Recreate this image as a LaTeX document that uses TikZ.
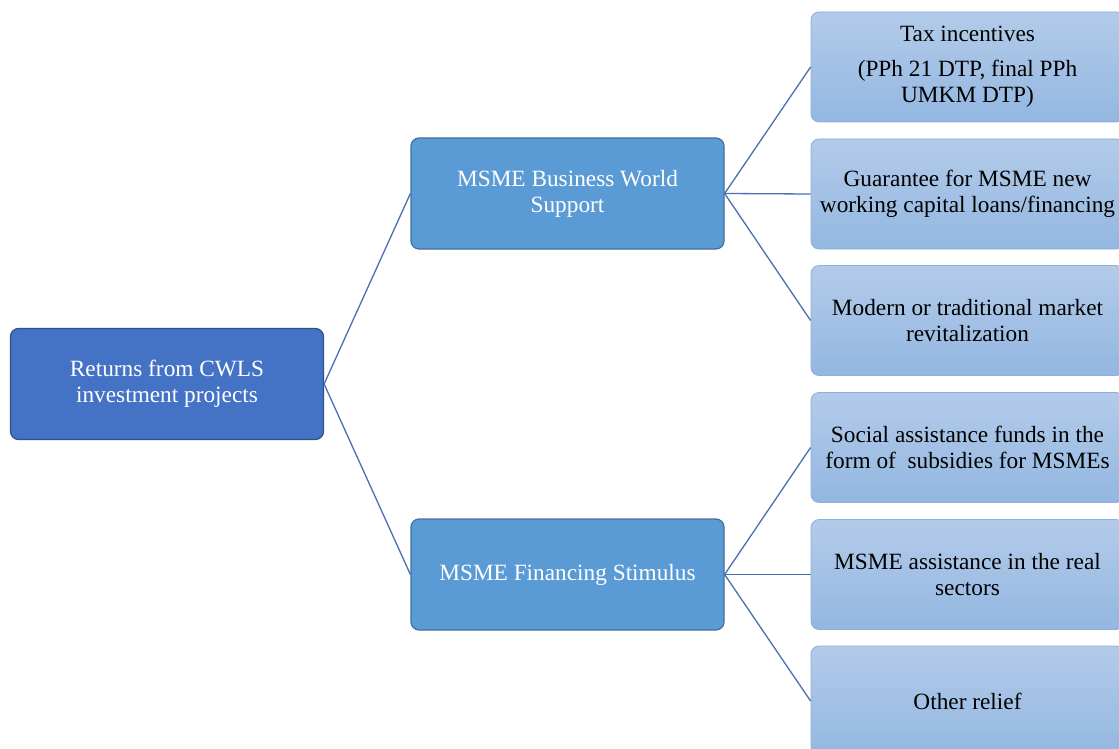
\documentclass[tikz,border=0pt]{standalone}
\usepackage{fontspec}
\setmainfont{Liberation Serif}
\definecolor{rootfill}{HTML}{4472C4}
\definecolor{rootdraw}{HTML}{2F528F}
\definecolor{midfill}{HTML}{5B9BD5}
\definecolor{middraw}{HTML}{41719C}
\definecolor{leaftop}{HTML}{B3CBE9}
\definecolor{leafbot}{HTML}{93B7E1}
\definecolor{leafdraw}{HTML}{8EAEDB}
\definecolor{linkcol}{HTML}{4A6FB5}
\begin{document}
\begin{tikzpicture}[x=1pt,y=-1pt,
  every node/.style={font=\fontsize{23.3}{26}\selectfont, align=center, inner sep=0pt},
  rootbox/.style={draw=rootdraw, line width=1.2pt, fill=rootfill, text=white, rounded corners=8pt, minimum width=313pt, minimum height=111pt},
  midbox/.style={draw=middraw, line width=1.2pt, fill=midfill, text=white, rounded corners=8pt, minimum width=313pt, minimum height=111pt},
  leafbox/.style={draw=leafdraw, line width=0.8pt, top color=leaftop, bottom color=leafbot, text=black, rounded corners=8pt, minimum width=313pt, minimum height=110pt},
  link/.style={draw=linkcol, line width=1.3pt}]
\useasboundingbox (0,0) rectangle (1119,749);
\fill[white] (0,0) rectangle (1119,749);
\node[rootbox] (root) at (167,384) {Returns from CWLS\\investment projects};
\node[midbox] (m1) at (567.5,193.5) {MSME Business World\\Support};
\node[midbox] (m2) at (567.5,574.5) {MSME Financing Stimulus};
\node[leafbox] (l1) at (967.5,67) {Tax incentives\\[9pt](PPh 21 DTP, final PPh\\UMKM DTP)};
\node[leafbox] (l2) at (967.5,194) {Guarantee for MSME new\\working capital loans/financing};
\node[leafbox] (l3) at (967.5,320.5) {Modern or traditional market\\revitalization};
\node[leafbox] (l4) at (967.5,447.5) {Social assistance funds in the\\form of~ subsidies for MSMEs};
\node[leafbox] (l5) at (967.5,574.5) {MSME assistance in the real\\sectors};
\node[leafbox] (l6) at (967.5,701) {Other relief};
\draw[link] (root.east) -- (m1.west);
\draw[link] (root.east) -- (m2.west);
\draw[link] (m1.east) -- (l1.west);
\draw[link] (m1.east) -- (l2.west);
\draw[link] (m1.east) -- (l3.west);
\draw[link] (m2.east) -- (l4.west);
\draw[link] (m2.east) -- (l5.west);
\draw[link] (m2.east) -- (l6.west);
\end{tikzpicture}
\end{document}
